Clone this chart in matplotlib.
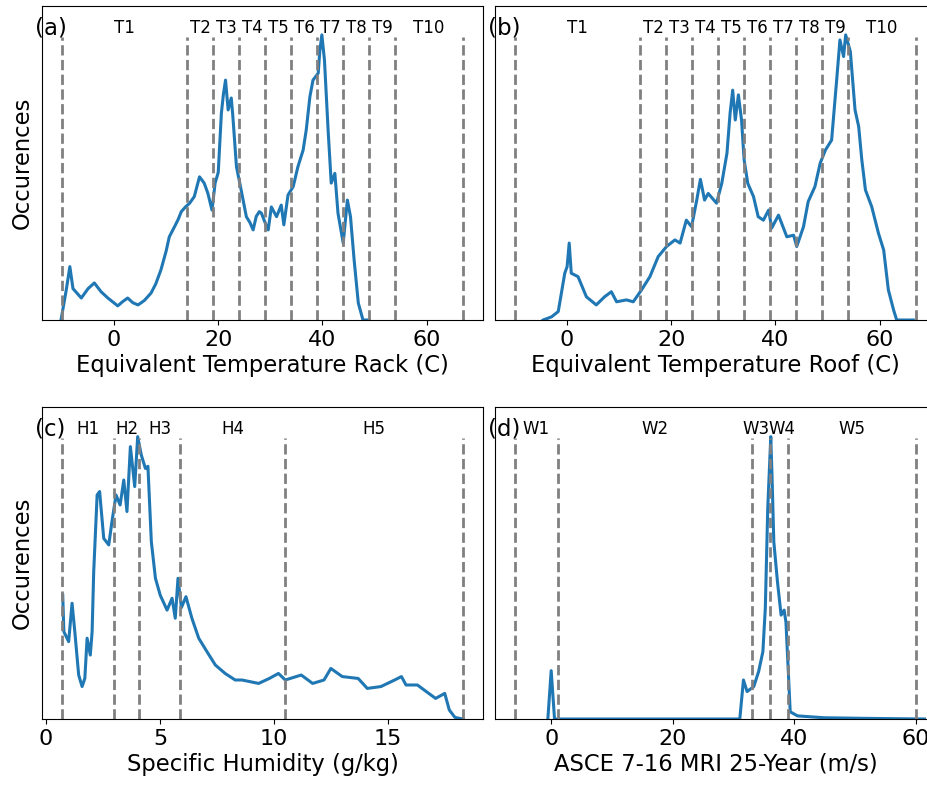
import matplotlib
matplotlib.use("Agg")
import matplotlib.pyplot as plt
import matplotlib.transforms as mtransforms

# temperature bins (same for rack and roof)
t_edges = [-10, 14, 19, 24, 29, 34, 39, 44, 49, 54, 67]
t_names = ["T1", "T2", "T3", "T4", "T5", "T6", "T7", "T8", "T9", "T10"]

h_edges = [0.7, 3.0, 4.1, 5.9, 10.5, 18.3]
h_names = ["H1", "H2", "H3", "H4", "H5"]

w_edges = [-6, 1, 33, 36, 39, 60]
w_names = ["W1", "W2", "W3", "W4", "W5"]

# (a) equivalent temperature rack
rack_x = [-10.2, -9.2, -8.5, -7.9, -6.3, -5.0, -3.8, -2.5, -1.2, 0.7, 1.6, 2.6, 3.6, 4.6,
          5.8, 7.1, 8.0, 9.0, 10.0, 10.6, 11.6, 12.3, 12.9, 13.7, 14.5, 15.4, 16.4, 17.3,
          18.0, 18.8, 19.4, 20.0, 20.6, 21.0, 21.4, 21.9, 22.5, 22.8, 23.5, 24.4, 25.4,
          26.1, 26.7, 27.3, 27.9, 28.3, 29.0, 29.6, 30.2, 31.2, 32.1, 32.6, 33.4, 34.4,
          35.3, 36.3, 36.9, 37.6, 38.2, 39.2, 39.5, 39.9, 40.4, 41.1, 41.7, 42.4, 43.0,
          44.0, 44.8, 45.4, 46.1, 46.9, 47.8, 49.0]
rack_y = [0.0, 0.095, 0.17, 0.10, 0.07, 0.10, 0.118, 0.09, 0.07, 0.045, 0.058, 0.07,
          0.055, 0.048, 0.062, 0.086, 0.115, 0.16, 0.22, 0.265, 0.297, 0.32, 0.345, 0.36,
          0.372, 0.393, 0.456, 0.436, 0.404, 0.35, 0.436, 0.47, 0.658, 0.72, 0.764, 0.669,
          0.707, 0.65, 0.488, 0.414, 0.329, 0.31, 0.287, 0.33, 0.345, 0.34, 0.31, 0.287,
          0.36, 0.329, 0.366, 0.303, 0.398, 0.425, 0.488, 0.541, 0.605, 0.711, 0.764,
          0.786, 0.855, 0.908, 0.828, 0.605, 0.436, 0.467, 0.34, 0.245, 0.382, 0.329,
          0.191, 0.054, 0.0, 0.0]

# (b) equivalent temperature roof
roof_x = [-4.6, -3.0, -1.7, -0.45, 0.0, 0.4, 0.8, 2.1, 3.7, 5.6, 7.2, 8.5, 9.5, 11.4,
          12.7, 14.3, 15.9, 17.5, 19.1, 20.7, 21.7, 22.9, 23.9, 24.9, 25.6, 26.4, 27.1,
          28.7, 29.7, 30.7, 31.3, 31.8, 32.3, 32.9, 33.5, 34.0, 34.7, 35.8, 36.7, 37.7,
          38.7, 39.3, 40.6, 42.2, 43.5, 44.1, 45.4, 46.3, 47.6, 48.6, 49.6, 50.8, 51.8,
          52.4, 53.1, 53.5, 54.4, 55.3, 56.0, 56.6, 57.3, 58.5, 59.8, 60.8, 61.7, 62.7,
          63.3, 66.5]
roof_y = [0.0, 0.01, 0.027, 0.149, 0.17, 0.245, 0.149, 0.138, 0.074, 0.048, 0.074, 0.09,
          0.058, 0.064, 0.058, 0.096, 0.138, 0.202, 0.234, 0.255, 0.245, 0.318, 0.297,
          0.382, 0.448, 0.382, 0.403, 0.372, 0.435, 0.531, 0.658, 0.732, 0.637, 0.717,
          0.637, 0.51, 0.435, 0.393, 0.329, 0.318, 0.35, 0.293, 0.334, 0.265, 0.27, 0.234,
          0.297, 0.377, 0.425, 0.499, 0.541, 0.573, 0.77, 0.892, 0.839, 0.908, 0.855,
          0.669, 0.616, 0.51, 0.414, 0.361, 0.276, 0.223, 0.096, 0.032, 0.0, 0.0]

# (c) specific humidity
hum_x = [0.73, 0.78, 0.99, 1.14, 1.26, 1.43, 1.58, 1.70, 1.80, 1.94, 2.02, 2.09, 2.24,
         2.35, 2.53, 2.75, 2.89, 3.07, 3.25, 3.41, 3.55, 3.70, 3.89, 4.02, 4.18, 4.36,
         4.47, 4.62, 4.80, 5.01, 5.31, 5.53, 5.67, 5.79, 5.94, 6.14, 6.40, 6.70, 7.06,
         7.43, 7.86, 8.30, 8.60, 9.33, 9.8, 10.2, 10.5, 11.2, 11.7, 12.2, 12.5, 13.0,
         13.7, 14.1, 14.7, 15.3, 15.6, 15.8, 16.3, 16.8, 17.1, 17.5, 17.7, 17.95, 18.3]
hum_y = [0.397, 0.28, 0.248, 0.371, 0.28, 0.141, 0.104, 0.13, 0.259, 0.205, 0.28, 0.472,
         0.718, 0.729, 0.579, 0.558, 0.632, 0.718, 0.686, 0.766, 0.665, 0.873, 0.745,
         0.905, 0.846, 0.803, 0.81, 0.568, 0.451, 0.397, 0.349, 0.387, 0.323, 0.451,
         0.357, 0.392, 0.323, 0.259, 0.216, 0.173, 0.146, 0.125, 0.125, 0.114, 0.13,
         0.146, 0.125, 0.141, 0.114, 0.125, 0.162, 0.136, 0.13, 0.098, 0.104, 0.125,
         0.136, 0.109, 0.109, 0.082, 0.066, 0.082, 0.029, 0.005, 0.0]

# (d) ASCE 7-16 wind speed
wind_x = [-0.6, -0.05, 0.5, 10.0, 20.0, 31.0, 31.6, 32.2, 33.3, 34.1, 34.8, 35.2, 35.6,
          36.1, 36.3, 36.6, 37.2, 37.8, 38.3, 38.6, 39.3, 40.5, 44.9, 52.0, 61.4]
wind_y = [0.0, 0.155, 0.0, 0.0, 0.0, 0.0, 0.125, 0.088, 0.104, 0.152, 0.216, 0.355, 0.675,
          0.905, 0.782, 0.568, 0.44, 0.333, 0.349, 0.31, 0.023, 0.01, 0.004, 0.002, 0.0]

blue = "#1f77b4"
W, H = 927, 791
fig = plt.figure(figsize=(W / 100, H / 100), dpi=100)


def px_axes(x0, x1, y0, y1):
    return fig.add_axes([x0 / W, 1 - y1 / H, (x1 - x0) / W, (y1 - y0) / H])


axes = [px_axes(42, 483, 6, 320), px_axes(495, 936, 6, 320),
        px_axes(42, 483, 407, 719), px_axes(495, 936, 407, 719)]

panels = [
    (rack_x, rack_y, t_edges, t_names, "Equivalent Temperature Rack (C)", "(a)"),
    (roof_x, roof_y, t_edges, t_names, "Equivalent Temperature Roof (C)", "(b)"),
    (hum_x, hum_y, h_edges, h_names, "Specific Humidity (g/kg)", "(c)"),
    (wind_x, wind_y, w_edges, w_names, "ASCE 7-16 MRI 25-Year (m/s)", "(d)"),
]

# small nudges so the narrow W3/W4 labels don't collide
nudge = {"W3": -0.9, "W4": 0.4}

for i, (ax, (x, y, edges, names, xlabel, tag)) in enumerate(zip(axes, panels)):
    ax.plot(x, y, color=blue, lw=2.2)
    for e in edges:
        ax.axvline(e, ymin=0, ymax=0.9, color="gray", ls="--", lw=2)
    trans = mtransforms.blended_transform_factory(ax.transData, ax.transAxes)
    for k, name in enumerate(names):
        xm = (edges[k] + edges[k + 1]) / 2 + nudge.get(name, 0)
        ax.text(xm, 0.93, name, transform=trans, ha="center", va="center", fontsize=12)
    ax.text(-0.016, 0.93, tag, transform=ax.transAxes, ha="left", va="center",
            fontsize=16.5)
    span = edges[-1] - edges[0]
    ax.set_xlim(edges[0] - 0.05 * span, edges[-1] + 0.05 * span)
    ax.set_ylim(0, 1)
    ax.set_yticks([])
    ax.set_xlabel(xlabel, fontsize=16.3, labelpad=3)
    ax.tick_params(axis="x", labelsize=16)
    if i % 2 == 0:
        ax.set_ylabel("Occurences", fontsize=16.3, labelpad=6)

fig.savefig("out.png", dpi=100)
